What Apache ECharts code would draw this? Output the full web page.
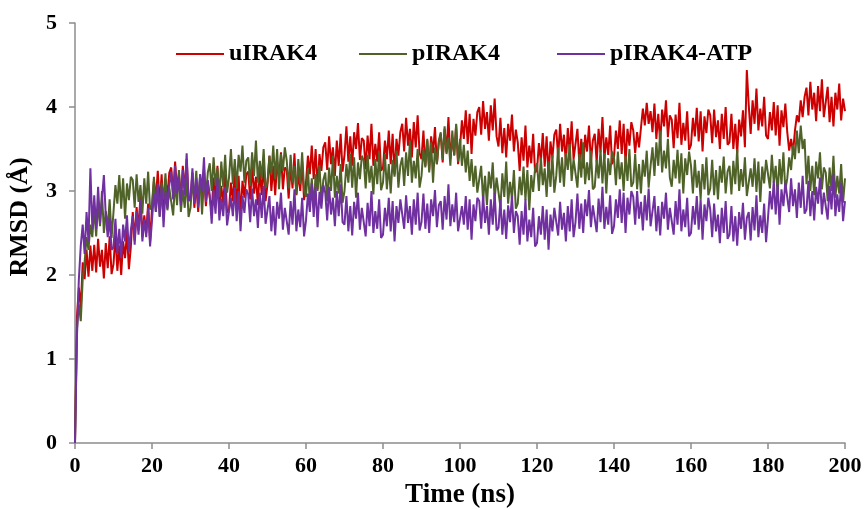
<!DOCTYPE html>
<html>
<head>
<meta charset="utf-8">
<script src="https://cdn.jsdelivr.net/npm/echarts@6/dist/echarts.min.js"></script>
<style>html,body{margin:0;padding:0;background:#fff}#c{width:864px;height:510px}</style>
</head>
<body>
<div id="c"></div>
<script>
// Time step between samples (ns); sample i is at time i*STEP
var STEP = 0.5;
var seriesNames = ['uIRAK4', 'pIRAK4', 'pIRAK4-ATP'];
var xTicks = [0, 20, 40, 60, 80, 100, 120, 140, 160, 180, 200];
var yTicks = [0, 1, 2, 3, 4, 5];

var uIRAK4 = [
0,1.5,1.85,1.6,2.15,1.95,2.3,1.98,2.35,2.05,
2.36,2.03,2.43,2.10,2.30,1.96,2.38,2.08,2.46,2.01,
2.13,2.47,2.05,2.35,2.00,2.40,2.20,2.51,2.07,2.33,
2.75,2.41,2.81,2.53,2.95,2.45,2.71,2.50,2.85,2.39,
2.80,3.12,2.90,3.24,2.84,3.20,2.72,3.14,2.94,3.22,
3.28,2.95,3.35,3.02,3.22,2.88,3.30,3.00,3.38,2.93,
2.88,3.22,2.80,3.10,2.75,3.15,2.95,3.26,2.82,3.08,
3.10,2.76,3.16,2.88,3.30,2.80,3.06,2.85,3.20,2.74,
2.78,3.10,2.88,3.22,2.82,3.18,2.70,3.12,2.92,3.20,
3.23,2.90,3.30,2.97,3.17,2.83,3.25,2.95,3.33,2.88,
3.08,3.42,3.00,3.30,2.95,3.35,3.15,3.46,3.02,3.28,
3.25,2.91,3.31,3.03,3.45,2.95,3.21,3.00,3.35,2.89,
3.10,3.42,3.20,3.54,3.14,3.50,3.02,3.44,3.24,3.52,
3.58,3.25,3.65,3.32,3.52,3.18,3.60,3.30,3.68,3.23,
3.43,3.77,3.35,3.65,3.30,3.70,3.50,3.81,3.37,3.63,
3.60,3.26,3.66,3.38,3.80,3.30,3.56,3.35,3.70,3.24,
3.28,3.60,3.38,3.72,3.32,3.68,3.20,3.62,3.42,3.70,
3.80,3.47,3.87,3.54,3.74,3.40,3.82,3.52,3.90,3.45,
3.38,3.72,3.30,3.60,3.25,3.65,3.45,3.76,3.32,3.58,
3.68,3.34,3.74,3.46,3.88,3.38,3.64,3.43,3.78,3.32,
3.52,3.84,3.62,3.96,3.56,3.92,3.44,3.86,3.66,3.94,
4.00,3.67,4.07,3.74,3.94,3.60,4.02,3.72,4.10,3.65,
3.53,3.87,3.45,3.75,3.40,3.80,3.60,3.91,3.47,3.73,
3.58,3.24,3.64,3.36,3.78,3.28,3.54,3.33,3.68,3.22,
3.25,3.57,3.35,3.69,3.29,3.65,3.17,3.59,3.39,3.67,
3.73,3.40,3.80,3.47,3.67,3.33,3.75,3.45,3.83,3.38,
3.40,3.74,3.32,3.62,3.27,3.67,3.47,3.78,3.34,3.60,
3.68,3.34,3.74,3.46,3.88,3.38,3.64,3.43,3.78,3.32,
3.40,3.72,3.50,3.84,3.44,3.80,3.32,3.74,3.54,3.82,
3.72,3.45,3.70,3.52,3.75,3.98,3.78,4.05,3.80,3.95,
3.70,4.04,3.62,3.92,3.57,3.97,3.77,4.08,3.64,3.90,
3.85,3.51,3.91,3.63,4.05,3.55,3.81,3.60,3.95,3.49,
3.55,3.87,3.65,3.99,3.59,3.95,3.47,3.89,3.69,3.97,
3.90,3.57,3.97,3.64,3.84,3.50,3.92,3.62,4.00,3.55,
3.58,3.92,3.50,3.80,3.45,3.85,3.65,3.96,3.52,4.44,
4.02,3.68,4.08,3.80,4.22,3.72,3.98,3.77,4.12,3.66,
3.62,3.94,3.72,4.06,3.66,4.02,3.54,3.96,3.76,4.04,
3.70,3.48,3.62,3.45,3.72,3.90,3.82,4.08,3.88,4.12,
4.23,3.90,4.30,3.97,4.17,3.83,4.25,3.95,4.33,3.88,
3.90,4.24,3.82,4.12,3.77,4.17,3.97,4.28,3.84,4.10,
3.95
];

var pIRAK4 = [
0,1.35,1.65,1.45,1.95,2.15,2.45,2.3,2.6,2.45,
2.80,2.46,2.86,2.58,3.00,2.50,2.76,2.55,2.90,2.44,
2.75,3.07,2.85,3.19,2.79,3.15,2.67,3.09,2.89,3.17,
3.13,2.80,3.20,2.87,3.07,2.73,3.15,2.85,3.23,2.78,
2.83,3.17,2.75,3.05,2.70,3.10,2.90,3.21,2.77,3.03,
3.05,2.71,3.11,2.83,3.25,2.75,3.01,2.80,3.15,2.69,
2.80,3.12,2.90,3.24,2.84,3.20,2.72,3.14,2.94,3.22,
3.33,3.00,3.40,3.07,3.27,2.93,3.35,3.05,3.43,2.98,
3.16,3.50,3.08,3.38,3.03,3.43,3.23,3.54,3.10,3.36,
3.40,3.06,3.46,3.18,3.60,3.10,3.36,3.15,3.50,3.04,
3.10,3.42,3.20,3.54,3.14,3.50,3.02,3.44,3.24,3.52,
3.36,3.03,3.43,3.10,3.30,2.96,3.38,3.08,3.46,3.01,
2.93,3.27,2.85,3.15,2.80,3.20,3.00,3.31,2.87,3.13,
3.22,2.88,3.28,3.00,3.42,2.92,3.18,2.97,3.32,2.86,
3.00,3.32,3.10,3.44,3.04,3.40,2.92,3.34,3.14,3.42,
3.36,3.03,3.43,3.10,3.30,2.96,3.38,3.08,3.46,3.01,
3.10,3.44,3.02,3.32,2.97,3.37,3.17,3.48,3.04,3.30,
3.40,3.06,3.46,3.18,3.60,3.10,3.36,3.15,3.50,3.04,
3.18,3.50,3.28,3.62,3.22,3.58,3.10,3.52,3.32,3.60,
3.70,3.37,3.77,3.44,3.64,3.30,3.72,3.42,3.80,3.35,
3.62,3.30,3.55,3.22,3.48,3.12,3.38,3.05,3.30,2.98,
2.96,3.30,2.88,3.18,2.83,3.23,3.03,3.34,2.90,3.16,
3.15,2.81,3.21,2.93,3.35,2.85,3.11,2.90,3.25,2.79,
2.85,3.17,2.95,3.29,2.89,3.25,2.77,3.19,2.99,3.27,
3.33,3.00,3.40,3.07,3.27,2.93,3.35,3.05,3.43,2.98,
3.18,3.52,3.10,3.40,3.05,3.45,3.25,3.56,3.12,3.38,
3.38,3.04,3.44,3.16,3.58,3.08,3.34,3.13,3.48,3.02,
3.05,3.37,3.15,3.49,3.09,3.45,2.97,3.39,3.19,3.47,
3.40,3.07,3.47,3.14,3.34,3.00,3.42,3.12,3.50,3.05,
3.10,3.44,3.02,3.32,2.97,3.37,3.17,3.48,3.04,3.30,
3.52,3.18,3.58,3.30,3.72,3.22,3.48,3.27,3.62,3.16,
3.05,3.37,3.15,3.49,3.09,3.45,2.97,3.39,3.19,3.47,
3.30,2.97,3.37,3.04,3.24,2.90,3.32,3.02,3.40,2.95,
3.03,3.37,2.95,3.25,2.90,3.30,3.10,3.41,2.97,3.23,
3.30,2.96,3.36,3.08,3.50,3.00,3.26,3.05,3.40,2.94,
2.95,3.27,3.05,3.39,2.99,3.35,2.87,3.29,3.09,3.37,
3.36,3.03,3.43,3.10,3.30,2.96,3.38,3.08,3.46,3.01,
3.15,3.40,3.25,3.55,3.38,3.72,3.45,3.78,3.50,3.62,
3.08,3.42,3.00,3.30,2.95,3.35,3.15,3.46,3.02,3.28,
3.22,2.88,3.28,3.00,3.42,2.92,3.18,2.97,3.32,2.86,
3.15
];

var pIRAK4ATP = [
0,1.25,1.95,2.35,2.6,2.25,2.75,2.4,3.27,2.55,
2.95,2.55,3.05,2.62,2.9,3.19,2.7,2.45,2.68,2.3,
2.33,2.67,2.25,2.55,2.20,2.60,2.40,2.71,2.27,2.53,
2.70,2.36,2.76,2.48,2.90,2.40,2.66,2.45,2.80,2.34,
2.65,2.97,2.75,3.09,2.69,3.05,2.57,2.99,2.79,3.07,
3.23,2.90,3.30,2.97,3.17,2.83,3.25,2.95,3.45,2.88,
2.93,3.27,2.85,3.15,2.80,3.20,3.00,3.40,2.87,3.13,
2.95,2.61,3.01,2.73,3.15,2.65,2.91,2.70,3.05,2.59,
2.60,2.92,2.70,3.04,2.64,3.00,2.52,2.94,2.74,3.02,
2.96,2.63,3.03,2.70,2.90,2.56,2.98,2.68,3.06,2.61,
2.60,2.94,2.52,2.82,2.47,2.87,2.67,2.98,2.54,2.80,
2.82,2.48,2.88,2.60,3.02,2.52,2.78,2.57,2.92,2.46,
2.65,2.97,2.75,3.09,2.69,3.05,2.57,2.99,2.79,3.07,
2.98,2.65,3.05,2.72,2.92,2.58,3.00,2.70,3.08,2.63,
2.60,2.94,2.52,2.82,2.47,2.87,2.67,2.98,2.54,2.80,
2.80,2.46,2.86,2.58,3.00,2.50,2.76,2.55,2.90,2.44,
2.48,2.80,2.58,2.92,2.52,2.88,2.40,2.82,2.62,2.90,
2.88,2.55,2.95,2.62,2.82,2.48,2.90,2.60,2.98,2.53,
2.63,2.97,2.55,2.85,2.50,2.90,2.70,3.01,2.57,2.83,
2.88,2.54,2.94,2.66,3.08,2.58,2.84,2.63,2.98,2.52,
2.50,2.82,2.60,2.94,2.54,2.90,2.42,2.84,2.64,2.92,
2.88,2.55,2.95,2.62,2.82,2.48,2.90,2.60,2.98,2.53,
2.56,2.90,2.48,2.78,2.43,2.83,2.63,2.94,2.50,2.76,
2.70,2.36,2.76,2.48,2.90,2.40,2.66,2.45,2.80,2.34,
2.38,2.70,2.48,2.82,2.42,2.78,2.30,2.72,2.52,2.80,
2.80,2.47,2.87,2.54,2.74,2.40,2.82,2.52,2.90,2.45,
2.63,2.97,2.55,2.85,2.50,2.90,2.70,3.01,2.57,2.83,
2.85,2.51,2.91,2.63,3.05,2.55,2.81,2.60,2.95,2.49,
2.58,2.90,2.68,3.02,2.62,2.98,2.50,2.92,2.72,3.00,
2.93,2.60,3.00,2.67,2.87,2.53,2.95,2.65,3.03,2.58,
2.60,2.94,2.52,2.82,2.47,2.87,2.67,2.98,2.54,2.80,
2.82,2.48,2.88,2.60,3.02,2.52,2.78,2.57,2.92,2.46,
2.50,2.82,2.60,2.94,2.54,2.90,2.42,2.84,2.64,2.92,
2.78,2.45,2.85,2.52,2.72,2.38,2.80,2.50,2.88,2.43,
2.48,2.82,2.40,2.70,2.35,2.75,2.55,2.86,2.42,2.68,
2.75,2.41,2.81,2.53,2.95,2.45,2.71,2.50,2.85,2.39,
2.68,3.00,2.78,3.12,2.72,3.08,2.60,3.02,2.82,3.10,
3.08,2.75,3.15,2.82,3.02,2.68,3.10,2.80,3.18,2.73,
2.78,3.12,2.70,3.00,2.65,3.05,2.85,3.16,2.72,2.98,
3.00,2.66,3.06,2.78,3.20,2.70,2.96,2.75,3.10,2.64,
2.88
];

var colors = ['#cc0000', '#4f6228', '#7030a0'];

function toPairs(arr) {
  return arr.map(function (v, i) { return [i * STEP, v]; });
}

var FONT = '"Liberation Serif", "Times New Roman", serif';
var axisGray = '#8c8c8c';

var chart = echarts.init(document.getElementById('c'), null, { renderer: 'canvas' });

function legendAt(name, left) {
  return {
    data: [name],
    left: left,
    top: 37,
    icon: 'rect',
    itemWidth: 48,
    itemHeight: 2,
    selectedMode: false,
    textStyle: { fontFamily: FONT, fontWeight: 'bold', fontSize: 24, color: '#000' }
  };
}

function lineSeries(k, arr) {
  return {
    name: seriesNames[k], type: 'line', data: toPairs(arr),
    showSymbol: false, symbol: 'none',
    lineStyle: { width: 2, color: colors[k] }, itemStyle: { color: colors[k] }
  };
}

chart.setOption({
  animation: false,
  backgroundColor: '#fff',
  color: colors,
  legend: [legendAt(seriesNames[0], 171), legendAt(seriesNames[1], 354), legendAt(seriesNames[2], 552)],
  grid: { left: 75, right: 19, top: 23, bottom: 67, containLabel: false, outerBoundsMode: 'none' },
  xAxis: {
    type: 'value',
    min: xTicks[0],
    max: xTicks[xTicks.length - 1],
    interval: xTicks[1] - xTicks[0],
    name: 'Time (ns)',
    nameLocation: 'middle',
    nameGap: 33,
    nameTextStyle: { fontFamily: FONT, fontWeight: 'bold', fontSize: 27, color: '#000' },
    axisLine: { show: true, lineStyle: { color: axisGray, width: 1.5 } },
    axisTick: { show: true, length: 6, lineStyle: { color: axisGray, width: 1.5 } },
    axisLabel: { fontFamily: FONT, fontWeight: 'bold', fontSize: 22, color: '#000', margin: 12 },
    splitLine: { show: false }
  },
  yAxis: {
    type: 'value',
    min: yTicks[0],
    max: yTicks[yTicks.length - 1],
    interval: yTicks[1] - yTicks[0],
    name: 'RMSD (Å)',
    nameLocation: 'middle',
    nameGap: 42,
    nameRotate: 90,
    nameTextStyle: { fontFamily: FONT, fontWeight: 'bold', fontSize: 26, color: '#000', padding: [0, 0, 0, 32] },
    axisLine: { show: true, lineStyle: { color: axisGray, width: 1.5 } },
    axisTick: { show: true, length: 6, lineStyle: { color: axisGray, width: 1.5 } },
    axisLabel: { fontFamily: FONT, fontWeight: 'bold', fontSize: 22, color: '#000', margin: 18 },
    splitLine: { show: false }
  },
  series: [lineSeries(0, uIRAK4), lineSeries(1, pIRAK4), lineSeries(2, pIRAK4ATP)]
});
</script>
</body>
</html>
